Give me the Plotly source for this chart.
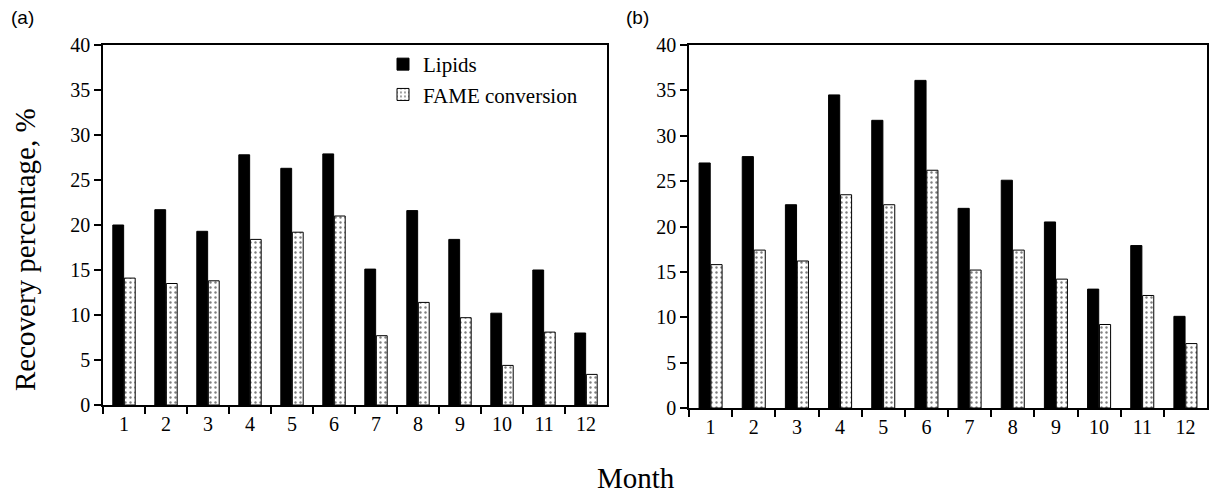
import plotly.graph_objects as go

months = [str(m) for m in range(1, 13)]
lipids_a = [20.0, 21.7, 19.3, 27.8, 26.3, 27.9, 15.1, 21.6, 18.4, 10.2, 15.0, 8.0]
fame_a = [14.1, 13.5, 13.8, 18.4, 19.2, 21.0, 7.7, 11.4, 9.7, 4.4, 8.1, 3.4]
lipids_b = [27.0, 27.7, 22.4, 34.5, 31.7, 36.1, 22.0, 25.1, 20.5, 13.1, 17.9, 10.1]
fame_b = [15.8, 17.4, 16.2, 23.5, 22.4, 26.2, 15.2, 17.4, 14.2, 9.2, 12.4, 7.1]
y_ticks = [0, 5, 10, 15, 20, 25, 30, 35, 40]

W, H = 1209, 494
SERIF = "Liberation Serif, Times New Roman, serif"

fame_marker = dict(color="white", line=dict(color="black", width=1),
                   pattern=dict(shape=".", fgcolor="black", bgcolor="white",
                                size=5, solidity=0.18))
lip_marker = dict(color="black", line=dict(color="black", width=1))

fig = go.Figure()
fig.add_trace(go.Bar(x=months, y=lipids_a, name="Lipids", marker=lip_marker,
                     xaxis="x", yaxis="y"))
fig.add_trace(go.Bar(x=months, y=fame_a, name="FAME conversion", marker=fame_marker,
                     xaxis="x", yaxis="y"))
fig.add_trace(go.Bar(x=months, y=lipids_b, name="Lipids", marker=lip_marker,
                     xaxis="x2", yaxis="y2", showlegend=False))
fig.add_trace(go.Bar(x=months, y=fame_b, name="FAME conversion", marker=fame_marker,
                     xaxis="x2", yaxis="y2", showlegend=False))

def px_x(p):
    return p / W

def px_y(p):
    return 1 - p / H

tickfont = dict(family=SERIF, size=20, color="black")
xax = dict(type="category", tickson="boundaries", ticks="outside", ticklen=7,
           tickwidth=1.5, tickcolor="black", showline=True, linecolor="black",
           linewidth=1.5, mirror=True, showgrid=False, zeroline=False,
           tickfont=tickfont, automargin=False)
yax = dict(range=[0, 40], tickvals=y_ticks, ticks="outside", ticklen=7,
           tickwidth=1.5, tickcolor="black", showline=True, linecolor="black",
           linewidth=1.5, mirror=True, showgrid=False, zeroline=False,
           tickfont=tickfont, automargin=False)

fig.update_layout(
    width=W, height=H,
    margin=dict(l=0, r=0, t=0, b=0),
    paper_bgcolor="white", plot_bgcolor="white",
    font=dict(family=SERIF, color="black"),
    barmode="group", bargap=0.45, bargroupgap=0.06,
    xaxis=dict(xax, domain=[px_x(103), px_x(607)], anchor="y"),
    yaxis=dict(yax, domain=[px_y(405), px_y(45)], anchor="x"),
    xaxis2=dict(xax, domain=[px_x(689), px_x(1207)], anchor="y2"),
    yaxis2=dict(yax, domain=[px_y(408), px_y(45)], anchor="x2"),
    legend=dict(x=px_x(383), y=px_y(44), xanchor="left", yanchor="top",
                bgcolor="rgba(0,0,0,0)", font=dict(family=SERIF, size=21, color="black"),
                itemwidth=30, tracegroupgap=0),
    showlegend=True,
    annotations=[
        dict(text="Recovery percentage, %", x=px_x(25), y=px_y(250), xref="paper", yref="paper",
             textangle=-90, showarrow=False, font=dict(family=SERIF, size=29, color="black"),
             xanchor="center", yanchor="middle"),
        dict(text="Month", x=px_x(636), y=px_y(478), xref="paper", yref="paper",
             showarrow=False, font=dict(family=SERIF, size=29, color="black"),
             xanchor="center", yanchor="middle"),
        dict(text="(a)", x=px_x(9), y=px_y(17), xref="paper", yref="paper",
             showarrow=False, font=dict(family="Liberation Sans", size=19, color="black"),
             xanchor="left", yanchor="middle"),
        dict(text="(b)", x=px_x(624), y=px_y(17), xref="paper", yref="paper",
             showarrow=False, font=dict(family="Liberation Sans", size=19, color="black"),
             xanchor="left", yanchor="middle"),
    ],
)

fig.write_html("out.html")
